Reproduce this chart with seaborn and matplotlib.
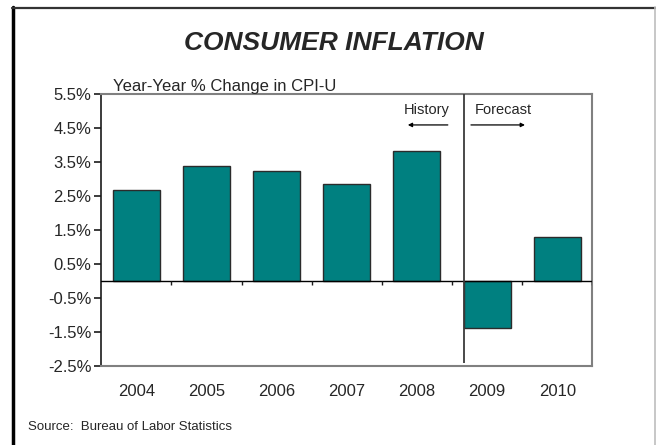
import matplotlib
matplotlib.use("Agg")
import matplotlib.pyplot as plt
from matplotlib.lines import Line2D
import seaborn as sns
import pandas as pd

# Year-over-year % change in CPI-U
years = ["2004", "2005", "2006", "2007", "2008", "2009", "2010"]
cpi_change = [2.68, 3.38, 3.24, 2.85, 3.81, -1.37, 1.30]
y_ticks = [-2.5, -1.5, -0.5, 0.5, 1.5, 2.5, 3.5, 4.5, 5.5]
y_tick_labels = [f"{v:.1f}%" for v in y_ticks]

sns.set_style("white")
plt.rcParams["font.family"] = ["Liberation Sans", "DejaVu Sans"]

W, H = 656, 445
fig = plt.figure(figsize=(W / 100, H / 100), dpi=100)
ax = fig.add_axes([101.3 / W, 1 - 366 / H, 491 / W, 272 / H])

df = pd.DataFrame({"year": years, "change": cpi_change})
sns.barplot(data=df, x="year", y="change", color="#008080", saturation=1,
            width=0.67, edgecolor="#2b2b2b", linewidth=1.0, ax=ax)

ax.set_xlim(-0.5, len(years) - 0.5)
ax.set_ylim(-2.5, 5.5)
ax.set_yticks(y_ticks)
ax.set_yticklabels(y_tick_labels)
ax.set_xlabel("")
ax.set_ylabel("")

spine_col = "#808080"
for s in ax.spines.values():
    s.set_visible(True)
    s.set_color(spine_col)
    s.set_linewidth(1.5)
ax.spines["left"].set_color("#1a1a1a")
ax.spines["left"].set_linewidth(1.2)

ax.tick_params(axis="y", direction="out", length=5, width=1.2, color="#1a1a1a",
               pad=2, labelsize=12, left=True)
ax.tick_params(axis="x", length=0, pad=13, labelsize=12)

# zero line with small ticks at category boundaries
ax.axhline(0, color="black", linewidth=1.0, zorder=3)
bounds = [i + 0.5 for i in range(len(years))]
ax.vlines(bounds, -0.13, 0, color="#1a1a1a", linewidth=1.0, zorder=3)

# history / forecast divider at the left edge of the first forecast bar
split = years.index("2009") - 0.335
ax.vlines(split, -2.4, 5.5, color="#3a3a3a", linewidth=1.3, zorder=4)

ax.text(4.14, 5.03, "History", ha="center", va="center", fontsize=10.5)
ax.annotate("", xy=(3.87, 4.59), xytext=(4.44, 4.59),
            arrowprops=dict(arrowstyle="-|>", color="black", lw=0.9,
                            mutation_scale=6, shrinkA=0, shrinkB=0))
ax.text(5.23, 5.03, "Forecast", ha="center", va="center", fontsize=10.5)
ax.annotate("", xy=(5.54, 4.59), xytext=(4.77, 4.59),
            arrowprops=dict(arrowstyle="-|>", color="black", lw=0.9,
                            mutation_scale=6, shrinkA=0, shrinkB=0))

fig.text(334 / W, 1 - 43 / H, "CONSUMER INFLATION", ha="center", va="center",
         fontsize=19, fontweight="bold", fontstyle="italic")
fig.text(113 / W, 1 - 86 / H, "Year-Year % Change in CPI-U", ha="left",
         va="center", fontsize=12)
fig.text(28 / W, 1 - 427 / H, "Source:  Bureau of Labor Statistics",
         ha="left", va="center", fontsize=9.5)

# slide frame
fig.add_artist(Line2D([13 / W, 13 / W], [0, 1 - 7 / H], color="black",
                      linewidth=2.5, transform=fig.transFigure))
fig.add_artist(Line2D([12 / W, 1], [1 - 7.5 / H, 1 - 7.5 / H], color="#333333",
                      linewidth=1.6, transform=fig.transFigure))
fig.add_artist(Line2D([655 / W, 655 / W], [0, 1 - 7 / H], color="#bdbdbd",
                      linewidth=1.2, transform=fig.transFigure))

fig.savefig("out.png", dpi=100)
